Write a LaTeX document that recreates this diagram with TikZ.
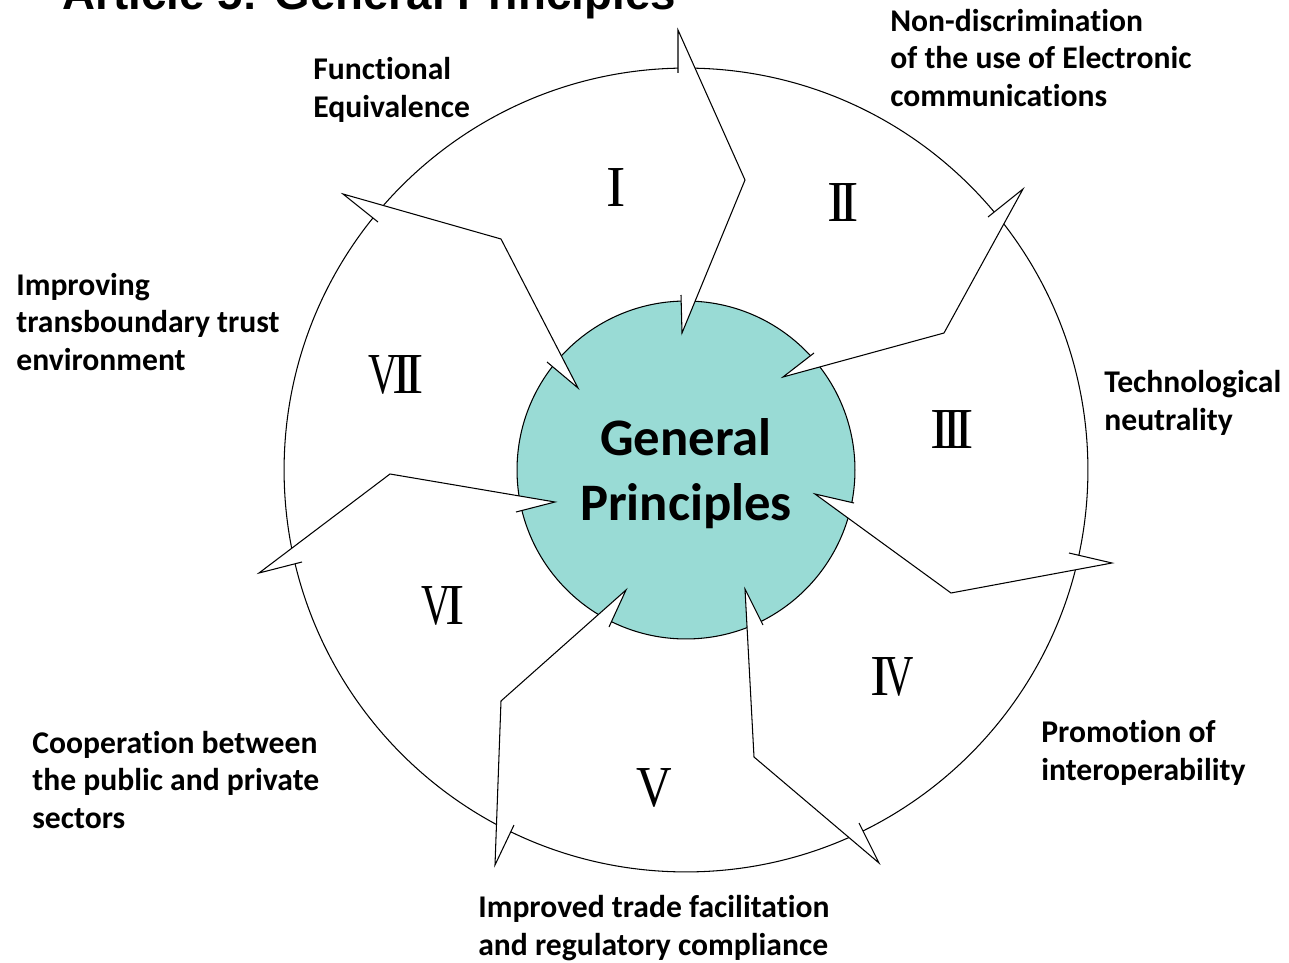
\documentclass[tikz,border=0pt]{standalone}
\usepackage{fontspec}
\setmainfont[Ligatures=NoCommon]{Carlito}
\newfontfamily\titlefont{Liberation Sans}
\newfontfamily\numfont{Liberation Serif}
\usepackage{graphicx}
\usepackage{tikz}

\definecolor{core}{HTML}{99DBD5}
\newcommand{\nV}{\scalebox{0.7}[1]{V}}

\tikzset{
    rim/.style={line width=0.6pt, line join=miter},
    lbl/.style={anchor=west, align=left, inner sep=0pt, font=\fontsize{18}{21.5}\selectfont\bfseries},
    num/.style={inner sep=0pt, font=\numfont\fontsize{33}{33}\selectfont}
}

\begin{document}
\begin{tikzpicture}[x=0.02cm, y=-0.02cm]
            \useasboundingbox (0, 0) rectangle (1289, 963);
            \node (ctr) at (686, 470) {};
            \draw[rim] (ctr.center) circle (8.04cm);
            \filldraw[rim, fill=core] (ctr.center) circle (3.38cm);
            % separator points: outer barb, outer tip, bend, inner tip, inner barb
            \coordinate (ob0) at (678, 73);
            \coordinate (ot0) at (678, 30);
            \coordinate (bd0) at (745, 180);
            \coordinate (it0) at (682, 333);
            \coordinate (ib0) at (681, 295);
            \coordinate (ob1) at (988, 217);
            \coordinate (ot1) at (1023, 189);
            \coordinate (bd1) at (944, 333);
            \coordinate (it1) at (783, 377);
            \coordinate (ib1) at (814, 353);
            \coordinate (ob2) at (1069, 553);
            \coordinate (ot2) at (1112, 563);
            \coordinate (bd2) at (951, 593);
            \coordinate (it2) at (815, 494);
            \coordinate (ib2) at (854, 503);
            \coordinate (ob3) at (859, 823);
            \coordinate (ot3) at (879, 863);
            \coordinate (bd3) at (754, 757);
            \coordinate (it3) at (745, 589);
            \coordinate (ib3) at (763, 625);
            \coordinate (ob4) at (514, 825);
            \coordinate (ot4) at (495, 865);
            \coordinate (bd4) at (501, 701);
            \coordinate (it4) at (626, 590);
            \coordinate (ib4) at (609, 627);
            \coordinate (ob5) at (302, 562);
            \coordinate (ot5) at (259, 573);
            \coordinate (bd5) at (390, 474);
            \coordinate (it5) at (555, 502);
            \coordinate (ib5) at (516, 512);
            \coordinate (ob6) at (378, 222);
            \coordinate (ot6) at (343, 194);
            \coordinate (bd6) at (501, 239);
            \coordinate (it6) at (578, 388);
            \coordinate (ib6) at (547, 362);
            \fill[white] (ob0) -- (ot0) -- (bd0) -- (it0) -- (ib0) -- cycle;
            \draw[rim] (ob0) to (ot0) to (bd0) to (it0) to (ib0);
            \fill[white] (ob1) -- (ot1) -- (bd1) -- (it1) -- (ib1) -- cycle;
            \draw[rim] (ob1) to (ot1) to (bd1) to (it1) to (ib1);
            \fill[white] (ob2) -- (ot2) -- (bd2) -- (it2) -- (ib2) -- cycle;
            \draw[rim] (ob2) to (ot2) to (bd2) to (it2) to (ib2);
            \fill[white] (ob3) -- (ot3) -- (bd3) -- (it3) -- (ib3) -- cycle;
            \draw[rim] (ob3) to (ot3) to (bd3) to (it3) to (ib3);
            \fill[white] (ob4) -- (ot4) -- (bd4) -- (it4) -- (ib4) -- cycle;
            \draw[rim] (ob4) to (ot4) to (bd4) to (it4) to (ib4);
            \fill[white] (ob5) -- (ot5) -- (bd5) -- (it5) -- (ib5) -- cycle;
            \draw[rim] (ob5) to (ot5) to (bd5) to (it5) to (ib5);
            \fill[white] (ob6) -- (ot6) -- (bd6) -- (it6) -- (ib6) -- cycle;
            \draw[rim] (ob6) to (ot6) to (bd6) to (it6) to (ib6);
            % roman numerals
            \node[num] (n1) at (616, 188) {I};
            \node[num] (n2) at (843, 203) {I\kern-4pt I};
            \node[num] (n3) at (952, 430) {I\kern-4pt I\kern-4pt I};
            \node[num] (n4) at (892, 677) {I\kern-3pt\nV};
            \node[num] (n5) at (654, 788) {\scalebox{0.85}[1]{V}};
            \node[num] (n6) at (443, 606) {\nV\kern-3pt I};
            \node[num] (n7) at (396, 375) {\nV\kern-3pt I\kern-4pt I};
            % texts
            \node[inner sep=0pt, align=center, font=\fontsize{30}{37}\selectfont\bfseries] (core) at (686, 474) {General\\Principles};
            \node[lbl] (fe) at (313, 90) {Functional\\Equivalence};
            \node[lbl] (nd) at (890, 58) {Non-discrimination\\of the use of Electronic\\communications};
            \node[lbl] (tn) at (1104, 403) {Technological\\neutrality};
            \node[lbl] (pi) at (1041, 753) {Promotion of\\interoperability};
            \node[lbl] (tf) at (478, 928) {Improved trade facilitation\\and regulatory compliance};
            \node[lbl] (cp) at (32, 780) {Cooperation between\\the public and private\\sectors};
            \node[lbl] (tt) at (16, 322) {Improving\\transboundary trust\\environment};
            \node[anchor=base west, inner sep=0pt, font=\titlefont\bfseries\fontsize{26}{30}\selectfont] (title) at (62, 10) {Article 5: General Principles};
        \end{tikzpicture}
\end{document}
